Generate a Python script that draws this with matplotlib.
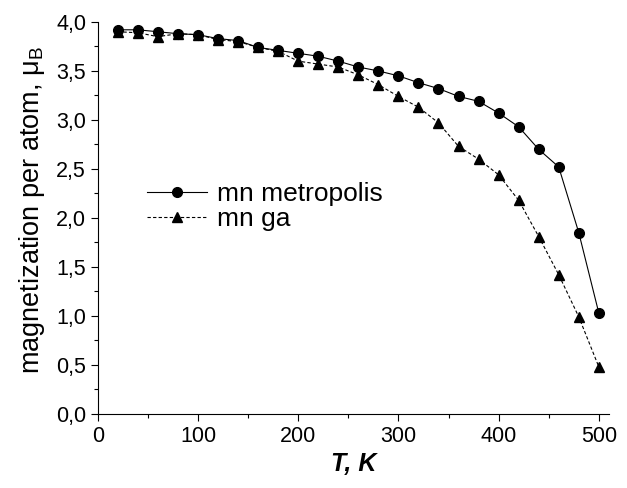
import matplotlib
matplotlib.use('Agg')
import matplotlib.pyplot as plt
from matplotlib.ticker import MultipleLocator, FuncFormatter

plt.rcParams['font.family'] = ['Liberation Sans', 'DejaVu Sans']
plt.rcParams['mathtext.fontset'] = 'custom'
plt.rcParams['mathtext.rm'] = 'Liberation Sans'

# температура, K
temperature = [20, 40, 60, 80, 100, 120, 140, 160, 180, 200, 220, 240, 260,
               280, 300, 320, 340, 360, 380, 400, 420, 440, 460, 480, 500]
# намагниченность, метод Метрополиса
mn_metropolis = [3.92, 3.92, 3.90, 3.88, 3.87, 3.83, 3.81, 3.74, 3.71, 3.68,
                 3.65, 3.60, 3.54, 3.50, 3.45, 3.38, 3.32, 3.24, 3.19, 3.07,
                 2.93, 2.70, 2.52, 1.85, 1.03]
# намагниченность, генетический алгоритм
mn_ga = [3.90, 3.89, 3.85, 3.88, 3.87, 3.82, 3.80, 3.74, 3.70, 3.60,
         3.57, 3.54, 3.46, 3.36, 3.24, 3.13, 2.97, 2.73, 2.60, 2.44,
         2.18, 1.81, 1.42, 0.99, 0.48]

fig = plt.figure(figsize=(6.27, 4.88), dpi=100)
ax = fig.add_axes([0.156, 0.152, 0.815, 0.803])

ax.plot(temperature, mn_metropolis, '-', color='black', lw=0.8,
        marker='o', ms=7, label='mn metropolis')
ax.plot(temperature, mn_ga, '--', color='black', lw=0.8, dashes=(3, 2),
        marker='^', ms=7.5, label='mn ga')

ax.set_xlim(0, 510)
ax.set_ylim(0, 4.0)
ax.xaxis.set_major_locator(MultipleLocator(100))
ax.xaxis.set_minor_locator(MultipleLocator(50))
ax.yaxis.set_major_locator(MultipleLocator(0.5))
ax.yaxis.set_minor_locator(MultipleLocator(0.25))
ax.yaxis.set_major_formatter(FuncFormatter(lambda v, p: f'{v:.1f}'.replace('.', ',')))

for s in ['top', 'right']:
    ax.spines[s].set_visible(False)
ax.tick_params(which='both', direction='out', labelsize=15.5, width=0.8)
ax.tick_params(which='major', length=5)
ax.tick_params(which='minor', length=3)

ax.set_xlabel('T, K', fontsize=18, fontweight='bold', style='italic', labelpad=4)
ax.set_ylabel(r'magnetization per atom, μ$_\mathregular{B}$', fontsize=19.5)
ax.yaxis.set_label_coords(-0.10, 0.52)

ax.legend(loc='upper left', bbox_to_anchor=(0.07, 0.625), frameon=False,
          fontsize=19, handlelength=2.3, handletextpad=0.35, labelspacing=0.05,
          borderpad=0)

plt.savefig('out.png', dpi=100)
